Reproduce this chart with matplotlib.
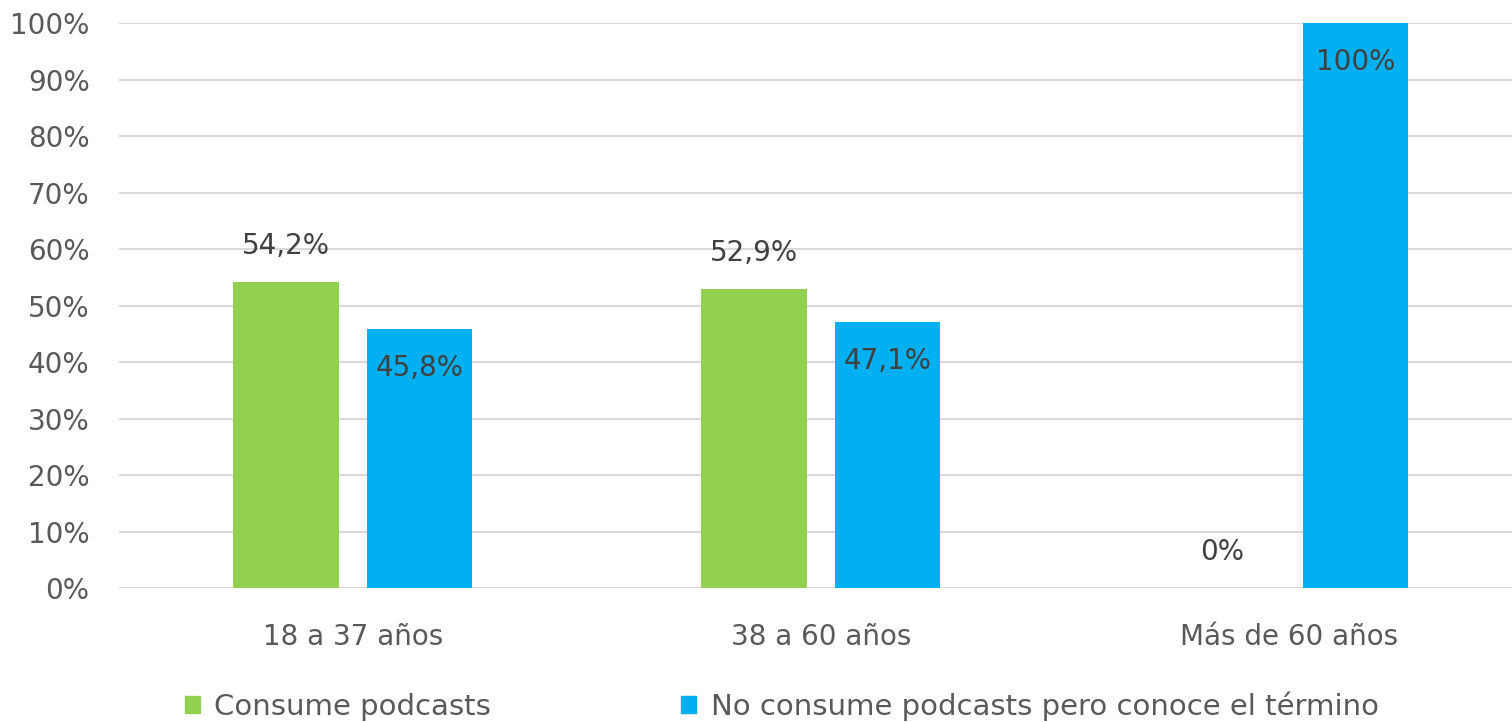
import matplotlib
matplotlib.use("Agg")
import matplotlib.pyplot as plt
from matplotlib.patches import Patch
import numpy as np

categories = ["18 a 37 años", "38 a 60 años", "Más de 60 años"]
consume = [54.2, 52.9, 0.0]
no_consume = [45.8, 47.1, 100.0]
consume_labels = ["54,2%", "52,9%", "0%"]
no_consume_labels = ["45,8%", "47,1%", "100%"]
series_names = ["Consume podcasts", "No consume podcasts pero conoce el término"]
yticks = list(range(0, 101, 10))
ytick_labels = [f"{v}%" for v in yticks]

green = "#92D050"
blue = "#00B0F0"
plt.rcParams['font.family'] = ['DejaVu Sans']

fig = plt.figure(figsize=(15.12, 7.22), dpi=100)
ax = fig.add_axes([0.0785, 0.1856, 0.9286, 0.7824])

x = np.arange(len(categories))
w = 0.226
off = 0.1426
ax.bar(x - off, consume, width=w, color=green, zorder=3)
ax.bar(x + off, no_consume, width=w, color=blue, zorder=3)

ax.set_xlim(-0.5, 2.5)
ax.set_ylim(0, 100)
ax.set_yticks(yticks)
ax.set_yticklabels(ytick_labels)
ax.set_xticks(x)
ax.set_xticklabels(categories)
ax.tick_params(axis='both', length=0, labelsize=20, colors='#595959')
ax.tick_params(axis='y', pad=21)
ax.tick_params(axis='x', pad=25)
ax.grid(axis='y', color='#D9D9D9', linewidth=1.5, zorder=0)
for s in ax.spines.values():
    s.set_visible(False)

for i in range(len(categories)):
    ax.annotate(consume_labels[i], (x[i] - off, consume[i]), xytext=(0, 26),
                textcoords='offset points', ha='center', va='center',
                fontsize=20, color='#404040', zorder=4)
    ax.annotate(no_consume_labels[i], (x[i] + off, no_consume[i]), xytext=(0, -28),
                textcoords='offset points', ha='center', va='center',
                fontsize=20, color='#404040', zorder=4)

handles = [Patch(color=green), Patch(color=blue)]
fig.legend(handles, series_names, loc='center', bbox_to_anchor=(0.517, 0.022),
           ncol=2, frameon=False, fontsize=21, labelcolor='#595959',
           handlelength=0.52, handleheight=0.52, handletextpad=0.5,
           columnspacing=6.5)

fig.savefig("out.png", dpi=100)
